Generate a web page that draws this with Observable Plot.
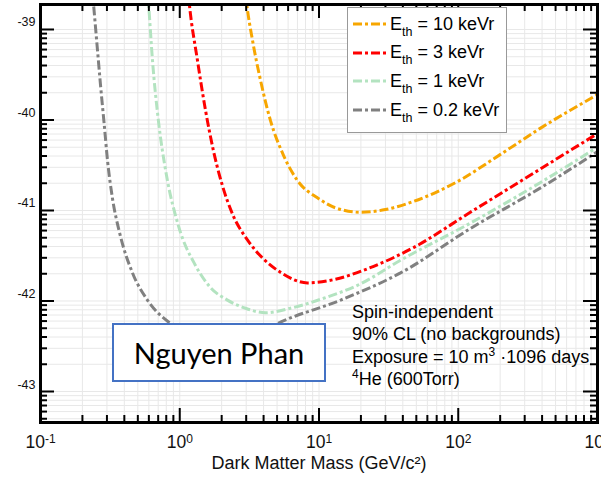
<!DOCTYPE html>
<html>
<head>
<meta charset="utf-8">
<script src="https://cdn.jsdelivr.net/npm/d3@7"></script>
<script src="https://cdn.jsdelivr.net/npm/@observablehq/plot@0.6"></script>
<style>
  html, body { margin: 0; padding: 0; background: #fff; overflow: hidden; }
  #chart { position: relative; width: 601px; height: 478px; font-family: "Liberation Sans", Arial, sans-serif; color: #000; }
  #legend { position: absolute; left: 347px; top: 7px; width: 158px; height: 124px; border: 1px solid #999; background: #fff; }
  #legend .row { position: absolute; left: 5px; height: 28px; display: flex; align-items: center; font-size: 18px; white-space: nowrap; }
  #legend .row svg { display: block; margin-right: 1px; }
  #legend sub { font-size: 12.5px; vertical-align: -6px; line-height: 0; }
  #note { position: absolute; left: 352px; top: 301px; font-size: 18px; line-height: 22.3px; white-space: nowrap; }
  #note sup { font-size: 12px; vertical-align: 7px; line-height: 0; }
  #name { position: absolute; left: 112px; top: 323px; width: 214px; height: 59px; box-sizing: border-box;
          border: 2px solid #4472c4; background: #fff; display: flex; align-items: center; justify-content: center;
          font-family: Lato, "Open Sans", sans-serif; font-size: 29px; padding-bottom: 1px; }
</style>
</head>
<body>
<div id="chart"></div>
<script>
// Threshold labels and line colours
const seriesLabels = ["10 keVr", "3 keVr", "1 keVr", "0.2 keVr"];
const seriesColors = ["#f7a600", "#ff0000", "#b3e3c0", "#808080"];

// Dark matter mass (GeV/c^2) and log10 of the cross-section limit (cm^2) per threshold
const mass10 = [2.87, 3.02, 3.33, 3.80, 4.49, 5.56, 7.01, 9.75, 13.1, 19.9, 30.0, 47.7, 98.8, 201, 390, 1000];
const logSigma10 = [-38.40, -38.71, -39.12, -39.56, -40.01, -40.39, -40.67, -40.86, -40.97, -41.02, -40.99, -40.90, -40.68, -40.38, -40.09, -39.72];

const mass3 = [1.12, 1.17, 1.34, 1.53, 1.74, 2.02, 2.41, 3.08, 3.96, 5.38, 8.26, 13.1, 20.9, 47.7, 122, 390, 1000];
const logSigma3 = [-38.40, -38.71, -39.34, -39.89, -40.33, -40.72, -41.05, -41.33, -41.53, -41.69, -41.80, -41.76, -41.66, -41.41, -41.02, -40.54, -40.15];

const mass1 = [0.577, 0.597, 0.637, 0.703, 0.803, 0.979, 1.30, 1.66, 2.20, 2.97, 4.13, 6.24, 10.8, 19.9, 38.5, 122, 390, 1000];
const logSigma1 = [-38.40, -38.71, -39.34, -40.01, -40.61, -41.17, -41.61, -41.85, -41.99, -42.08, -42.13, -42.08, -41.97, -41.81, -41.55, -41.14, -40.69, -40.30];

const mass02 = [0.229, 0.240, 0.255, 0.270, 0.286, 0.303, 0.329, 0.369, 0.458, 0.586, 0.859, 1.41, 2.31, 3.50, 5.04, 14.3, 38.5, 122, 390, 1000];
const logSigma02 = [-38.35, -38.71, -39.18, -39.62, -40.03, -40.45, -40.87, -41.24, -41.69, -41.99, -42.25, -42.41, -42.46, -42.38, -42.25, -41.99, -41.69, -41.20, -40.75, -40.35];

// Axis ticks
const massTicks = [0.1, 1, 10, 100, 1000];
const sigmaExponentTicks = [-43, -42, -41, -40, -39];

// Text
const xTitle = "Dark Matter Mass (GeV/c²)";
const noteLines = [
  "Spin-independent",
  "90% CL (no backgrounds)",
  "Exposure = 10 m<sup>3</sup> ·1096 days",
  "<sup>4</sup>He (600Torr)"
];
const nameText = "Nguyen Phan";

const curves = [[mass10, logSigma10], [mass3, logSigma3], [mass1, logSigma1], [mass02, logSigma02]];
const rows = curves.flatMap(([m, e], i) => m.map((mv, j) => ({series: seriesLabels[i], mass: mv, sigma: 10 ** e[j]})));

const W = 601, H = 478, mT = 4, mR = 4, mB = 56, mL = 40;
const innerW = W - mL - mR, innerH = H - mT - mB;
const yDomain = [10 ** -43.3425, 10 ** -38.724];

const xMinor = massTicks.slice(0, -1).flatMap(d => d3.range(2, 10).map(k => k * d));
const yMajor = sigmaExponentTicks.map(e => 10 ** e);
const yMinor = [-44, ...sigmaExponentTicks].flatMap(e => d3.range(2, 10).map(k => k * 10 ** e))
  .filter(v => v > yDomain[0] && v < yDomain[1]);

const dash = "9,3,3,3";
const expFormat = d => String(Math.round(Math.log10(d)));
const tickStyle = {stroke: "#000", strokeWidth: 2};

const svg = Plot.plot({
  width: W, height: H,
  marginTop: mT, marginRight: mR, marginBottom: mB, marginLeft: mL,
  style: {fontFamily: "'Liberation Sans', Arial, sans-serif", background: "#fff", color: "#111", overflow: "visible"},
  x: {type: "log", domain: [0.1, 1000]},
  y: {type: "log", domain: yDomain},
  color: {domain: seriesLabels, range: seriesColors},
  marks: [
    Plot.gridX([...xMinor, ...massTicks], {stroke: "#e8e8e8", strokeOpacity: 1}),
    Plot.gridY([...yMinor, ...yMajor], {stroke: "#e8e8e8", strokeOpacity: 1}),
    Plot.line(rows, {x: "mass", y: "sigma", z: "series", stroke: "series", strokeWidth: 3,
                     strokeDasharray: dash, strokeLinecap: "butt", strokeLinejoin: "miter",
                     curve: "monotone-x", clip: true}),
    // inward ticks on all four sides
    Plot.tickX(massTicks, {x: d => d, insetTop: innerH - 14, ...tickStyle}),
    Plot.tickX(massTicks, {x: d => d, insetBottom: innerH - 14, ...tickStyle}),
    Plot.tickX(xMinor, {x: d => d, insetTop: innerH - 7, ...tickStyle}),
    Plot.tickX(xMinor, {x: d => d, insetBottom: innerH - 7, ...tickStyle}),
    Plot.tickY(yMajor, {y: d => d, insetRight: innerW - 14, ...tickStyle}),
    Plot.tickY(yMajor, {y: d => d, insetLeft: innerW - 14, ...tickStyle}),
    Plot.tickY(yMinor, {y: d => d, insetRight: innerW - 7, ...tickStyle}),
    Plot.tickY(yMinor, {y: d => d, insetLeft: innerW - 7, ...tickStyle}),
    Plot.frame({stroke: "#000", strokeWidth: 3}),
    Plot.axisX(massTicks, {tickSize: 0, tickPadding: 13, fontSize: 17.5, tickFormat: expFormat, label: null}),
    Plot.axisY(yMajor, {tickSize: 0, tickPadding: 5, dy: -7, fontSize: 12.5, tickFormat: expFormat, label: null}),
    Plot.text([xTitle], {text: d => d, frameAnchor: "bottom", dy: 46, fontSize: 18})
  ]
});

// decade labels drawn as 10 with a raised exponent
const ns = "http://www.w3.org/2000/svg";
svg.querySelectorAll('[aria-label="x-axis tick label"] text').forEach(t => {
  const e = t.textContent;
  t.textContent = "";
  const base = document.createElementNS(ns, "tspan");
  base.textContent = "10";
  const sup = document.createElementNS(ns, "tspan");
  sup.setAttribute("dy", "-0.45em");
  sup.setAttribute("font-size", "12");
  sup.textContent = e;
  t.append(base, sup);
});

const chart = document.getElementById("chart");
chart.appendChild(svg);

// legend
const legend = document.createElement("div");
legend.id = "legend";
seriesLabels.forEach((label, i) => {
  const row = document.createElement("div");
  row.className = "row";
  row.style.top = (2 + i * 28.67) + "px";
  row.innerHTML = `<svg width="36" height="6"><line x1="0" x2="35" y1="3" y2="3" stroke="${seriesColors[i]}" stroke-width="3" stroke-dasharray="${dash}"/></svg><span>E<sub>th</sub> = ${label}</span>`;
  legend.appendChild(row);
});
chart.appendChild(legend);

// run conditions
const note = document.createElement("div");
note.id = "note";
note.innerHTML = noteLines.map(l => `<div>${l}</div>`).join("");
chart.appendChild(note);

// name box
const name = document.createElement("div");
name.id = "name";
name.textContent = nameText;
chart.appendChild(name);
</script>
</body>
</html>
